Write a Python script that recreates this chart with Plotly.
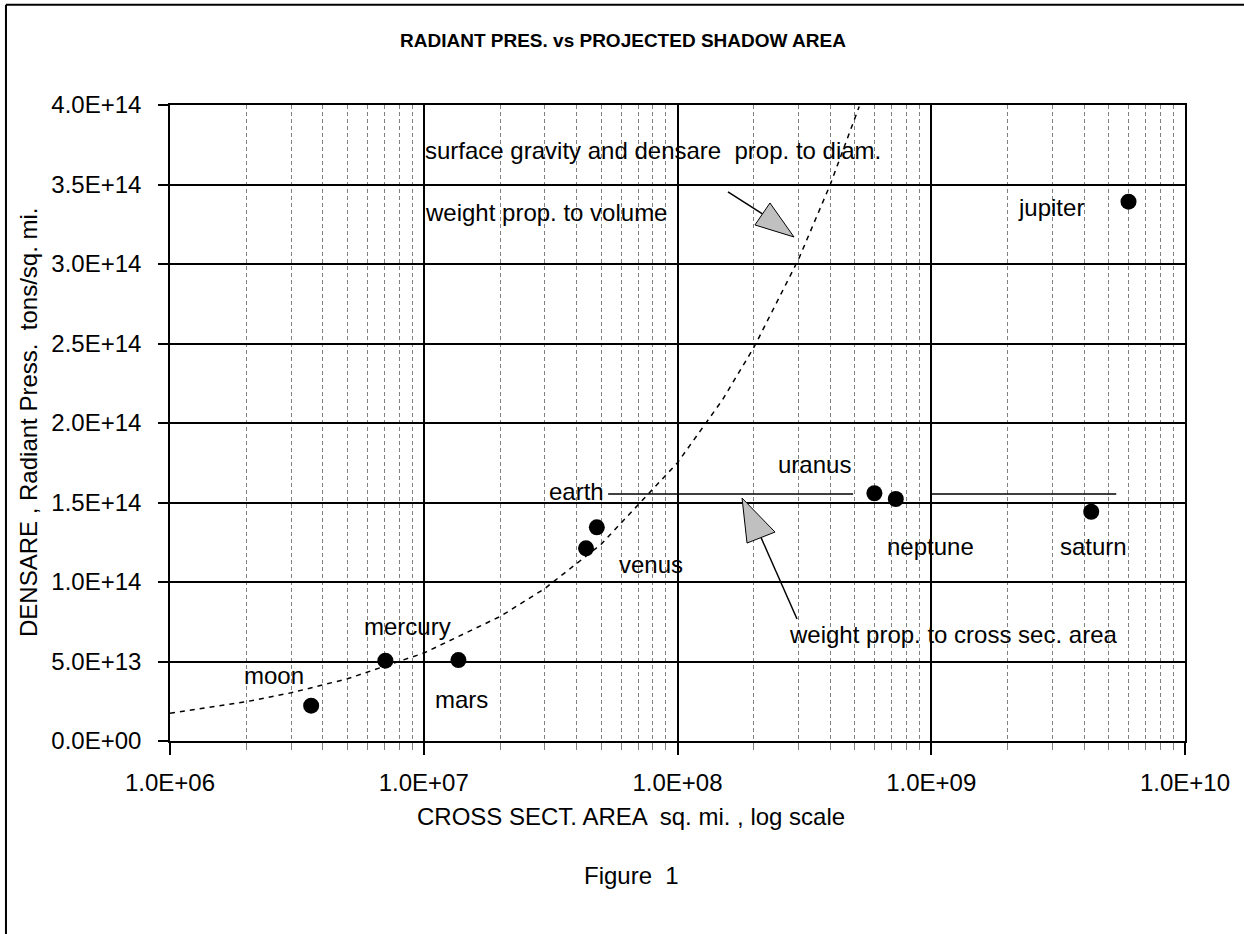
import math
import plotly.graph_objects as go

# ---- data ----
planets = ["moon", "mercury", "mars", "venus", "earth", "uranus", "neptune", "saturn", "jupiter"]
area_sq_mi = [3.6e6, 7.06e6, 1.37e7, 4.36e7, 4.81e7, 5.97e8, 7.25e8, 4.27e9, 5.99e9]
densare = [2.22e13, 5.05e13, 5.09e13, 1.212e14, 1.344e14, 1.558e14, 1.522e14, 1.442e14, 3.392e14]

# label positions (centre of each planet name)
label_x = [2.57e6, 8.63e6, 1.41e7, 7.86e7, 4.0e7, 3.48e8, 9.97e8, 4.34e9, 2.97e9]
label_y = [4.09e13, 7.23e13, 2.58e13, 1.107e14, 1.572e14, 1.742e14, 1.226e14, 1.226e14, 3.358e14]

# dashed curve: "densare prop. to diam."
curve_x = [1e6, 2e6, 3e6, 5e6, 1e7, 2e7, 3e7, 5e7, 1e8, 1.5e8, 2e8, 3e8, 4e8, 5.2e8]
curve_y = [1.75e13, 2.475e13, 3.03e13, 3.91e13, 5.53e13, 7.83e13, 9.59e13, 1.237e14,
           1.75e14, 2.143e14, 2.475e14, 3.03e14, 3.5e14, 3.99e14]

# horizontal line: "weight prop. to cross sec. area"
hline_x1 = [5.33e7, 4.92e8]
hline_x2 = [1.0e9, 5.36e9]
hline_y = 1.553e14

# axis ticks
x_tickvals = [1e6, 1e7, 1e8, 1e9, 1e10]
x_ticktext = ["1.0E+06", "1.0E+07", "1.0E+08", "1.0E+09", "1.0E+10"]
y_tickvals = [0, 5e13, 1e14, 1.5e14, 2e14, 2.5e14, 3e14, 3.5e14, 4e14]
y_ticktext = ["0.0E+00", "5.0E+13", "1.0E+14", "1.5E+14", "2.0E+14",
              "2.5E+14", "3.0E+14", "3.5E+14", "4.0E+14"]
x_minor = [d * 10 ** e for e in range(6, 10) for d in range(2, 10)]

# note texts
notes = ["surface gravity and densare  prop. to diam.", "weight prop. to volume",
         "weight prop. to cross sec. area"]
notes_x = [9.93e6, 9.93e6, 2.70e8]
notes_y = [3.717e14, 3.327e14, 6.67e13]

# arrow tips
arrow_tip_x = [2.877e8, 1.796e8]
arrow_tip_y = [3.17e14, 1.528e14]

FONT = "Liberation Sans, Arial, sans-serif"
FS = 24

fig = go.Figure()
fig.add_trace(go.Scatter(x=curve_x, y=curve_y, mode="lines",
                         line=dict(color="black", width=1.5, dash="5px,5px"),
                         hoverinfo="skip", showlegend=False))
for seg in (hline_x1, hline_x2):
    fig.add_trace(go.Scatter(x=seg, y=[hline_y, hline_y], mode="lines",
                             line=dict(color="black", width=1.5),
                             hoverinfo="skip", showlegend=False))
fig.add_trace(go.Scatter(x=area_sq_mi, y=densare, mode="markers", text=planets,
                         marker=dict(color="black", size=16, symbol="circle"),
                         showlegend=False))

annotations = []
for name, lx, ly in zip(planets, label_x, label_y):
    annotations.append(dict(x=math.log10(lx), y=ly, xref="x", yref="y", text=name,
                            showarrow=False, xanchor="center", yanchor="middle",
                            font=dict(family=FONT, size=FS, color="black")))
for t, nx, ny in zip(notes, notes_x, notes_y):
    annotations.append(dict(x=math.log10(nx), y=ny, xref="x", yref="y", text=t,
                            showarrow=False, xanchor="left", yanchor="middle",
                            font=dict(family=FONT, size=FS, color="black")))

# titles
annotations += [
    dict(x=0.4463, y=1.102, xref="paper", yref="paper", showarrow=False,
         xanchor="center", yanchor="middle",
         text="<b>RADIANT PRES. vs PROJECTED SHADOW AREA</b>",
         font=dict(family=FONT, size=19, color="black")),
    dict(x=0.454, y=-0.118, xref="paper", yref="paper", showarrow=False,
         xanchor="center", yanchor="middle",
         text="CROSS SECT. AREA  sq. mi. , log scale",
         font=dict(family=FONT, size=FS, color="black")),
    dict(x=-0.1399, y=0.5, xref="paper", yref="paper", showarrow=False, textangle=-90,
         xanchor="center", yanchor="middle",
         text="DENSARE , Radiant Press.  tons/sq. mi.",
         font=dict(family=FONT, size=FS, color="black")),
    dict(x=0.455, y=-0.2107, xref="paper", yref="paper", showarrow=False,
         xanchor="center", yanchor="middle",
         text="Figure  1", font=dict(family=FONT, size=FS, color="black")),
]

shapes = []
# arrows: shaft + grey triangular head (pixel sized, anchored at the tip)
shafts = ["M-66,45 L-31.5,23", "M55,-121 L19,-39.5"]
heads = ["M0,0 L-24,34 L-39,12 Z", "M0,0 L33,-34 L5,-45 Z"]
for tx, ty, sp, hp in zip(arrow_tip_x, arrow_tip_y, shafts, heads):
    shapes.append(dict(type="path", xref="x", yref="y", xsizemode="pixel", ysizemode="pixel",
                       xanchor=tx, yanchor=ty, path=sp,
                       line=dict(color="black", width=1.5), layer="above"))
    shapes.append(dict(type="path", xref="x", yref="y", xsizemode="pixel", ysizemode="pixel",
                       xanchor=tx, yanchor=ty, path=hp, fillcolor="#c0c0c0",
                       line=dict(color="black", width=1), layer="above"))
# outer frame (left and top edges)
shapes.append(dict(type="line", xref="paper", yref="paper", x0=-0.1616, x1=-0.1616,
                   y0=-0.31, y1=1.1575, line=dict(color="black", width=2)))
shapes.append(dict(type="line", xref="paper", yref="paper", x0=-0.1616, x1=1.06,
                   y0=1.1575, y1=1.1575, line=dict(color="black", width=2)))

fig.update_layout(
    width=1244, height=934,
    margin=dict(l=170, r=59, t=105, b=193),
    paper_bgcolor="white", plot_bgcolor="white",
    font=dict(family=FONT, size=FS, color="black"),
    annotations=annotations, shapes=shapes, showlegend=False,
    xaxis=dict(type="log", range=[6, 10], tickmode="array", tickvals=x_tickvals,
               ticktext=x_ticktext, ticks="outside", ticklen=12, tickwidth=1.5,
               tickcolor="black", showline=True, mirror=True, linecolor="black",
               linewidth=1.5, showgrid=True, gridcolor="black", gridwidth=1.5,
               zeroline=False, ticklabelstandoff=7,
               tickfont=dict(family=FONT, size=FS, color="black"),
               minor=dict(tickmode="array", tickvals=x_minor, showgrid=True,
                          gridcolor="#808080", gridwidth=1, griddash="4px,3px",
                          ticks="outside", ticklen=7, tickcolor="#808080", tickwidth=1)),
    yaxis=dict(range=[0, 4e14], tickmode="array", tickvals=y_tickvals, ticktext=y_ticktext,
               ticks="outside", ticklen=10, tickwidth=1.5, tickcolor="black",
               showline=True, mirror=True, linecolor="black", linewidth=1.5,
               showgrid=True, gridcolor="black", gridwidth=1.5, zeroline=False,
               ticklabelstandoff=12,
               tickfont=dict(family=FONT, size=FS, color="black")),
)

fig.write_html("out.html", config={"displayModeBar": False},
               post_script="document.body.style.margin='0px';")
